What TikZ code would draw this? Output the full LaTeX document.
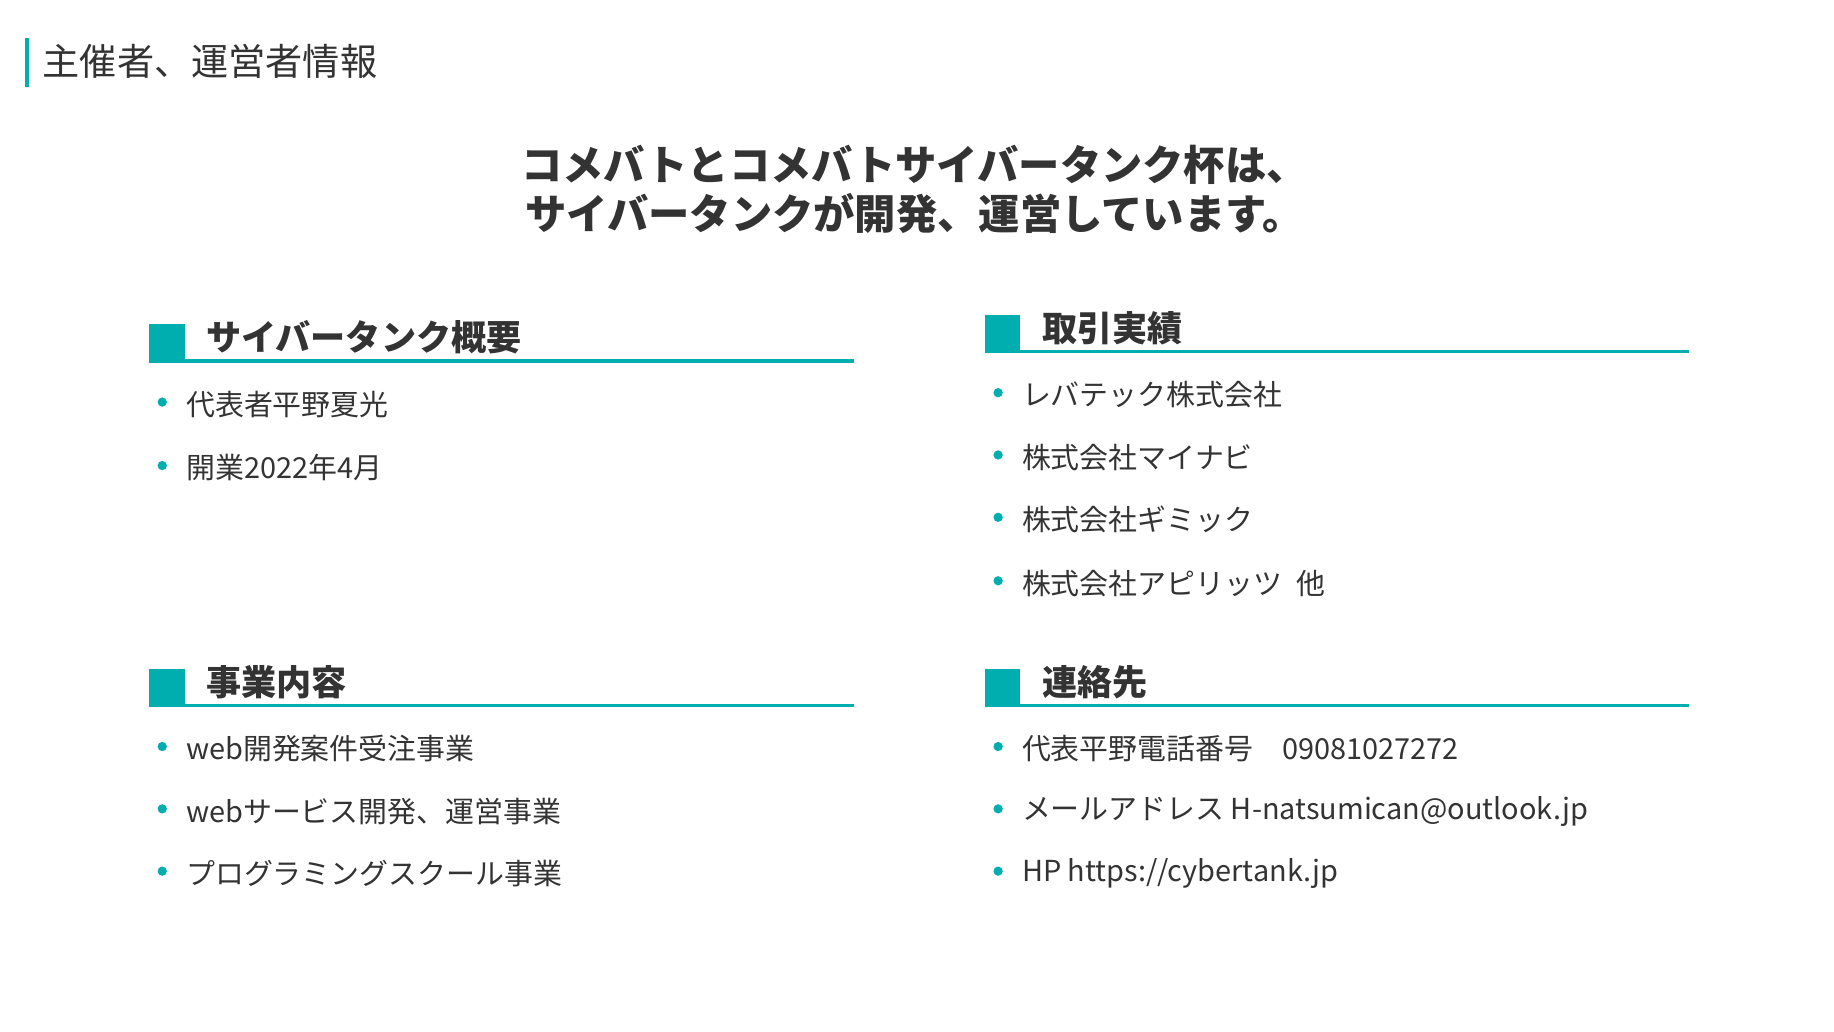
\documentclass[tikz,border=0pt]{standalone}
\usepackage{fontspec}
\setmainfont{Noto Sans CJK JP}
\definecolor{teal1}{HTML}{00AEB0}
\definecolor{txt}{HTML}{333333}
\begin{document}
\begin{tikzpicture}[x=0.02cm,y=-0.02cm,
  body/.style={anchor=west,inner sep=0,text=txt,font=\fontsize{14}{17}\selectfont},
  sect/.style={anchor=west,inner sep=0,text=txt,font=\fontsize{17}{20}\selectfont\bfseries},
  bul/.style={circle,fill=teal1,inner sep=0,minimum size=4.5pt}]
\useasboundingbox (0,0) rectangle (1560,877);
\fill[teal1] (21,32) rectangle (25,74);
\node[anchor=west,inner sep=0,text=txt,font=\fontsize{18}{21}\selectfont] (title) at (36,52) {主催者、運営者情報};
\node[align=center,inner sep=0,text=txt,font=\fontsize{20}{23.5}\selectfont\bfseries] (head) at (778,161) {コメバトとコメバトサイバータンク杯は、\\サイバータンクが開発、運営しています。};
% sections
\foreach \x/\y/\t/\n in {127/291/サイバータンク概要/a,838/283/取引実績/b,127/584/事業内容/c,838/584/連絡先/d}{
  \fill[teal1] (\x,\y-15) rectangle (\x+30,\y+15);
  \draw[teal1,line width=1.7pt] (\x,\y+16) -- (\x+599,\y+16);
  \node[sect] (s\n) at (\x+48,\y-4) {\t};
}
\foreach \y/\t [count=\i] in {344/代表者平野夏光,398/開業2022年4月}{
  \node[bul] (ba\i) at (138,\y-2) {}; \node[body] (ta\i) at (158,\y) {\t};}
\foreach \y/\t [count=\i] in {336/レバテック株式会社,389/株式会社マイナビ,442/株式会社ギミック,496/株式会社アピリッツ\enspace 他}{
  \node[bul] (bb\i) at (849,\y-2) {}; \node[body] (tb\i) at (869,\y) {\t};}
\foreach \y/\t [count=\i] in {637/web開発案件受注事業,690/webサービス開発、運営事業,743/プログラミングスクール事業}{
  \node[bul] (bc\i) at (138,\y-2) {}; \node[body] (tc\i) at (158,\y) {\t};}
\foreach \y/\t [count=\i] in {637/{代表平野電話番号\quad 09081027272},690/{メールアドレス H-natsumican@outlook.jp},743/{HP https://cybertank.jp}}{
  \node[bul] (bd\i) at (849,\y-2) {}; \node[body] (td\i) at (869,\y) {\t};}
\end{tikzpicture}
\end{document}
